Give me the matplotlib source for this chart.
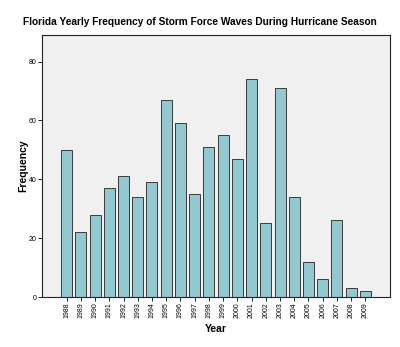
import matplotlib.pyplot as plt
import numpy as np

plt.rcParams['font.family'] = ['Liberation Sans', 'DejaVu Sans']

years = [str(y) for y in range(1988, 2010)]
freq = [50, 22, 28, 37, 41, 34, 39, 67, 59, 35, 51, 55, 47, 74, 25, 71, 34, 12, 6, 26, 3, 2]

fig = plt.figure(figsize=(4, 3.47), dpi=100)
ax = fig.add_axes([0.105, 0.144, 0.87, 0.755])
ax.set_facecolor('#f0f0f0')

x = np.arange(len(years))
ax.bar(x, freq, width=0.77, color='#93c8d0', edgecolor='#3a3a3a', linewidth=0.7)

ax.set_xlim(-1.73, len(years) - 1 + 1.73)
ax.set_ylim(0, 89)
ax.set_xticks(x)
ax.set_xticklabels(years, rotation=90, fontsize=5)
ax.set_yticks([0, 20, 40, 60, 80])
ax.tick_params(axis='y', labelsize=5, length=3, width=0.6, pad=1)
ax.tick_params(axis='x', length=3, width=0.6, pad=1)

for s in ax.spines.values():
    s.set_linewidth(0.8)
    s.set_color('#222222')

ax.set_xlabel('Year', fontsize=7.5, fontweight='bold', labelpad=4)
ax.set_ylabel('Frequency', fontsize=7.5, fontweight='bold', labelpad=0)
fig.text(0.5, 0.937, 'Florida Yearly Frequency of Storm Force Waves During Hurricane Season',
         ha='center', va='center', fontsize=7.3, fontweight='bold')

plt.savefig('out.png', dpi=100)
